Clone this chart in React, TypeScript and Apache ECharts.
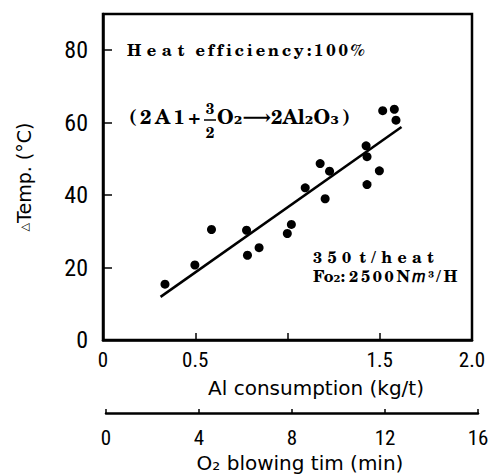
import React, { useEffect, useRef } from "react";
import * as echarts from "echarts";

// Al consumption (kg/t) and temperature rise (°C) for each heat
const alConsumption = [0.336, 0.498, 0.588, 0.778, 0.783, 0.846, 0.999, 1.021, 1.096, 1.177, 1.204, 1.228, 1.426, 1.431, 1.431, 1.498, 1.516, 1.579, 1.588];
const deltaTemp = [15.4, 20.7, 30.5, 30.3, 23.4, 25.5, 29.4, 31.9, 42.0, 48.7, 39.0, 46.6, 53.6, 50.6, 42.9, 46.7, 63.3, 63.7, 60.7];
// fitted line end points
const fitX = [0.312, 1.618];
const fitY = [11.9, 58.8];
// axis ticks
const yTicks = [0, 20, 40, 60, 80];
const xLabeled = [0, 0.5, 1.5, 2.0];
const o2Ticks = [0, 4, 8, 12, 16];

const NARROW = "'Roboto Condensed', 'DejaVu Sans Condensed', sans-serif";
const SANS = "'DejaVu Sans', sans-serif";
const SERIF = "'TeX Gyre Schola', 'DejaVu Serif', serif";
const SP3 = "\u2004";
const SP4 = "\u2005";
const SP6 = "\u2006";
const spaced = (s: string, sp: string) => Array.from(s).join(sp);

export default function App() {
  const ref = useRef<HTMLDivElement>(null);
  useEffect(() => {
    document.body.style.margin = "0";
    if (!ref.current) return;
    const chart = echarts.init(ref.current, null, { renderer: "svg" });
    const points = alConsumption.map((x, i) => [x, deltaTemp[i]]);
    const line = fitX.map((x, i) => [x, fitY[i]]);
    const ann = (text: string, x: number, y: number, size = 15, align = "left", lineHeight?: number) => ({
      type: "text",
      x,
      y,
      style: {
        text,
        fontFamily: SERIF,
        fontWeight: "bold",
        fontSize: size,
        fill: "#000",
        textAlign: align,
        textVerticalAlign: "middle",
        ...(lineHeight ? { lineHeight } : {}),
      },
    });
    chart.setOption({
      animation: false,
      backgroundColor: "#fff",
      grid: [
        { left: 103, right: 21, top: 14, bottom: 134, show: true, borderColor: "#000", borderWidth: 2.5 },
        { left: 106, right: 15, top: 411, height: 2 },
      ],
      xAxis: [
        {
          type: "value",
          gridIndex: 0,
          min: 0,
          max: 2,
          interval: 0.5,
          axisLine: { show: true, lineStyle: { color: "#000", width: 2.5 } },
          axisTick: { show: true, inside: true, length: 7, lineStyle: { color: "#000", width: 1.5 } },
          splitLine: { show: false },
          axisLabel: {
            margin: 9,
            fontFamily: NARROW,
            fontSize: 21,
            color: "#000",
            formatter: (v: number) => {
              const hit = xLabeled.find((t) => Math.abs(t - v) < 1e-6);
              if (hit === undefined) return "";
              return hit === 0 ? "0" : hit.toFixed(1);
            },
          },
        },
        {
          type: "value",
          gridIndex: 1,
          min: o2Ticks[0],
          max: o2Ticks[o2Ticks.length - 1],
          interval: 4,
          axisLine: { show: true, lineStyle: { color: "#000", width: 2.5 } },
          axisTick: { show: true, inside: true, length: 4, lineStyle: { color: "#000", width: 1.5 } },
          splitLine: { show: false },
          axisLabel: { margin: 14, fontFamily: NARROW, fontSize: 21, color: "#000" },
        },
      ],
      yAxis: [
        {
          type: "value",
          gridIndex: 0,
          min: 0,
          max: 90,
          interval: 20,
          axisLine: { show: true, lineStyle: { color: "#000", width: 2.5 } },
          axisTick: { show: true, inside: true, length: 9, lineStyle: { color: "#000", width: 1.5 } },
          splitLine: { show: false },
          axisLabel: {
            margin: 15,
            fontFamily: NARROW,
            fontSize: 24,
            color: "#000",
            formatter: (v: number) => (yTicks.includes(v) ? String(v) : ""),
          },
        },
        { type: "value", gridIndex: 1, show: false, min: 0, max: 1 },
      ],
      series: [
        {
          type: "scatter",
          xAxisIndex: 0,
          yAxisIndex: 0,
          data: points,
          symbol: "circle",
          symbolSize: 9,
          itemStyle: { color: "#000", opacity: 1 },
        },
        {
          type: "line",
          xAxisIndex: 0,
          yAxisIndex: 0,
          data: line,
          showSymbol: false,
          symbol: "none",
          lineStyle: { color: "#000", width: 2.5 },
        },
      ],
      graphic: [
        {
          type: "text",
          x: 24,
          y: 177,
          rotation: Math.PI / 2,
          style: {
            text: "{t|△}Temp. (°C)",
            fontFamily: SANS,
            fontSize: 19,
            fill: "#000",
            textAlign: "center",
            textVerticalAlign: "middle",
            rich: { t: { fontSize: 11, fontFamily: SANS, fill: "#000" } },
          },
        },
        {
          type: "text",
          x: 316,
          y: 388,
          style: { text: "Al consumption (kg/t)", fontFamily: SANS, fontSize: 20, fill: "#000", textAlign: "center", textVerticalAlign: "middle" },
        },
        {
          type: "text",
          x: 300,
          y: 463,
          style: { text: "O₂ blowing tim (min)", fontFamily: SANS, fontSize: 20, fill: "#000", textAlign: "center", textVerticalAlign: "middle" },
        },
        ann(spaced("Heat", SP3) + "\u2002\u2006" + spaced("efficiency:100%", SP6), 127, 49, 16.5),
        ann(spaced("(2A1+", SP6), 129, 116, 20),
        ann("3", 210, 108, 15, "center"),
        { type: "line", shape: { x1: 204, y1: 120, x2: 216, y2: 120 }, style: { stroke: "#000", lineWidth: 1.5 } },
        ann("2", 210, 132, 15, "center"),
        ann("O₂" + "⟶" + "2Al₂O₃" + SP6 + ")", 217, 116, 20),
        ann(
          spaced("350", SP3) + "\u2002" + spaced("t/heat", SP3) + "\n" + "Fo₂:" + SP4 + spaced("2500N𝑚³/H", SP6),
          313,
          265.5,
          16,
          "left",
          19
        ),
      ],
    });
    return () => chart.dispose();
  }, []);
  return <div ref={ref} style={{ width: 493, height: 474 }} />;
}
